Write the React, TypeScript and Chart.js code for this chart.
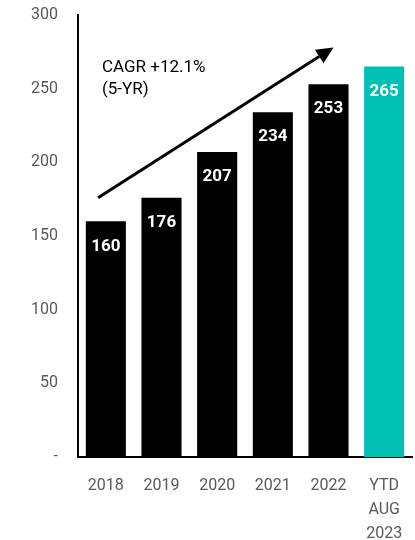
import React, { useEffect, useRef } from "react";
import { Chart, registerables } from "chart.js";

Chart.register(...registerables);

const categories: (string | string[])[] = ["2018", "2019", "2020", "2021", "2022", ["YTD", "AUG", "2023"]];
const values = [160, 176, 207, 234, 253, 265];
const barColors = ["#000000", "#000000", "#000000", "#000000", "#000000", "#00BFB3"];
const yTicks = [0, 50, 100, 150, 200, 250, 300];
const cagrLines = ["CAGR +12.1%", "(5-YR)"];
// arrow endpoints in data space: [category index, value]
const arrowFrom = [-0.14, 176];
const arrowTo = [4.09, 278];
const cagrAnchor = [-0.07, 264];

const overlayPlugin = {
  id: "overlay",
  afterDatasetsDraw(chart: any) {
    const ctx = chart.ctx;
    const xs = chart.scales.x;
    const ys = chart.scales.y;
    const meta = chart.getDatasetMeta(0);
    ctx.save();
    ctx.fillStyle = "#ffffff";
    ctx.font = "bold 17px Roboto";
    ctx.textAlign = "center";
    ctx.textBaseline = "middle";
    meta.data.forEach((bar: any, i: number) => {
      ctx.fillText(String(values[i]), bar.x, bar.y + 25);
    });
    const x1 = xs.getPixelForValue(arrowFrom[0]);
    const y1 = ys.getPixelForValue(arrowFrom[1]);
    const x2 = xs.getPixelForValue(arrowTo[0]);
    const y2 = ys.getPixelForValue(arrowTo[1]);
    const ang = Math.atan2(y2 - y1, x2 - x1);
    const headLen = 17;
    const headW = 8;
    const bx = x2 - headLen * Math.cos(ang);
    const by = y2 - headLen * Math.sin(ang);
    ctx.strokeStyle = "#000";
    ctx.lineWidth = 3;
    ctx.beginPath();
    ctx.moveTo(x1, y1);
    ctx.lineTo(bx, by);
    ctx.stroke();
    ctx.fillStyle = "#000";
    ctx.beginPath();
    ctx.moveTo(x2, y2);
    ctx.lineTo(bx + headW * Math.sin(ang), by - headW * Math.cos(ang));
    ctx.lineTo(bx - headW * Math.sin(ang), by + headW * Math.cos(ang));
    ctx.closePath();
    ctx.fill();
    const tx = xs.getPixelForValue(cagrAnchor[0]);
    const ty = ys.getPixelForValue(cagrAnchor[1]);
    ctx.font = "17px Roboto";
    ctx.textAlign = "left";
    ctx.textBaseline = "middle";
    cagrLines.forEach((t, i) => ctx.fillText(t, tx, ty + i * 22));
    ctx.restore();
  },
};

export default function App() {
  const ref = useRef<HTMLCanvasElement>(null);
  useEffect(() => {
    if (!ref.current) return;
    const chart = new Chart(ref.current, {
      type: "bar",
      data: {
        labels: categories as any,
        datasets: [
          {
            data: values,
            backgroundColor: barColors,
            borderWidth: 0,
            barPercentage: 0.72,
            categoryPercentage: 1,
          },
        ],
      },
      options: {
        animation: false,
        responsive: false,
        maintainAspectRatio: false,
        layout: { padding: { top: 15, right: 3, left: 0, bottom: 0 } },
        plugins: { legend: { display: false }, tooltip: { enabled: false } },
        scales: {
          x: {
            grid: { display: false, drawTicks: false },
            border: { display: true, color: "#000", width: 2 },
            ticks: {
              color: "#595959",
              font: { family: "Roboto", size: 16, lineHeight: 1.5 },
              padding: 17,
              maxRotation: 0,
              autoSkip: false,
            },
            afterFit: (s: any) => {
              s.height = 83;
              s.paddingLeft = 0;
              s.paddingRight = 0;
              s.paddingTop = 0;
              s.paddingBottom = 0;
            },
          },
          y: {
            min: 0,
            max: 300,
            afterBuildTicks: (s: any) => {
              s.ticks = yTicks.map((v) => ({ value: v }));
            },
            grid: { display: false, drawTicks: false },
            border: { display: true, color: "#000", width: 2 },
            ticks: {
              color: "#595959",
              font: { family: "Roboto", size: 16 },
              padding: 20,
              callback: (v: any) => (v === 0 ? "-" : String(v)),
            },
            afterFit: (s: any) => {
              s.width = 78;
              s.paddingLeft = 0;
              s.paddingRight = 0;
              s.paddingTop = 0;
              s.paddingBottom = 0;
            },
          },
        },
      },
      plugins: [overlayPlugin],
    });
    return () => chart.destroy();
  }, []);
  return (
    <div style={{ position: "fixed", left: 0, top: 0, width: 415, height: 540, background: "#fff" }}>
      <canvas ref={ref} width={415} height={540} style={{ display: "block" }} />
    </div>
  );
}
